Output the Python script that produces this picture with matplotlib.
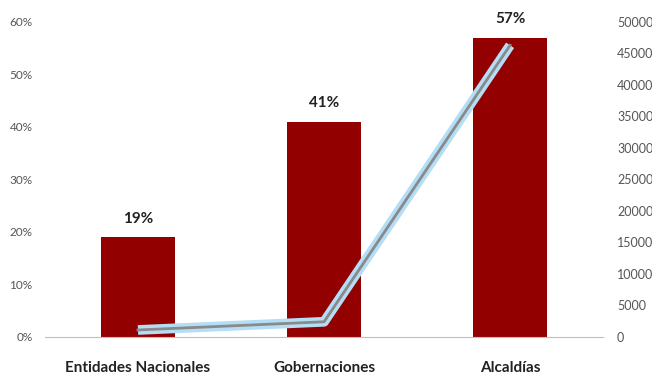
import matplotlib
matplotlib.use("Agg")
import matplotlib.pyplot as plt
import numpy as np

# Datos
categorias = ["Entidades Nacionales", "Gobernaciones", "Alcaldías"]
porcentajes = [0.19, 0.41, 0.57]
etiquetas = ["19%", "41%", "57%"]
cantidades = [1100, 2400, 46300]

plt.rcParams['font.family'] = ['Lato', 'DejaVu Sans']

fig = plt.figure(figsize=(6.52, 3.76), dpi=100)
ax = fig.add_axes([0.069, 0.104, 0.856, 0.8375])
x = np.arange(len(categorias))

ax.bar(x, porcentajes, width=0.4, color="#930000", zorder=2)
for xi, v, t in zip(x, porcentajes, etiquetas):
    ax.text(xi, v + 0.022, t, ha="center", va="bottom", fontsize=11,
            fontweight="bold", color="#222222")

ax.set_xlim(-0.5, 2.5)
ax.set_ylim(0, 0.6)
ax.set_yticks(np.arange(0, 0.61, 0.1))
ax.set_yticklabels(["{:.0f}%".format(v * 100) for v in np.arange(0, 0.61, 0.1)])
ax.set_xticks(x)
ax.set_xticklabels(categorias, fontsize=11, fontweight="bold", color="#222222")
ax.tick_params(axis="y", length=0, pad=9, labelsize=8.5, labelcolor="#555555")
ax.tick_params(axis="x", length=0, pad=17)
for s in ["top", "left", "right"]:
    ax.spines[s].set_visible(False)
ax.spines["bottom"].set_color("#bfbfbf")

ax2 = ax.twinx()
ax2.plot(x, cantidades, color="#b3def6", lw=7, solid_capstyle="butt", zorder=3)
ax2.plot(x, cantidades, color="#8a8a8a", lw=2, zorder=4)
ax2.set_ylim(0, 50000)
ax2.set_yticks(np.arange(0, 50001, 5000))
ax2.tick_params(axis="y", length=0, pad=10, labelsize=9, labelcolor="#555555")
for s in ["top", "left", "right", "bottom"]:
    ax2.spines[s].set_visible(False)

fig.savefig("out.png", dpi=100)
